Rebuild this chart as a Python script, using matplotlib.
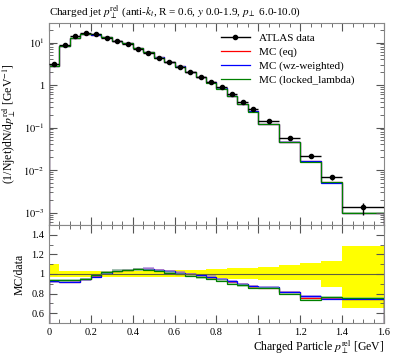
import numpy as np
import matplotlib
matplotlib.use("Agg")
from matplotlib import pyplot as plt
from matplotlib.lines import Line2D
from matplotlib.ticker import MultipleLocator, FixedLocator, NullFormatter, LogLocator, FuncFormatter

plt.rcParams["font.family"] = ["Liberation Serif", "DejaVu Serif"]
plt.rcParams["mathtext.fontset"] = "stix"

# bin edges (GeV)
edges = [0.0, 0.05, 0.1, 0.15, 0.2, 0.25, 0.3, 0.35, 0.4, 0.45, 0.5, 0.55, 0.6,
         0.65, 0.7, 0.75, 0.8, 0.85, 0.9, 0.95, 1.0, 1.1, 1.2, 1.3, 1.4, 1.6]

# ATLAS data
data = [3.05, 8.8, 13.9, 16.9, 15.8, 13.1, 10.6, 9.2, 7.1, 5.6, 4.3, 3.4, 2.71,
        2.03, 1.57, 1.20, 0.88, 0.61, 0.40, 0.275, 0.141, 0.057, 0.0213, 0.0068, 0.00133]
# relative data uncertainty (up / down)
err_up = [0.105, 0.033, 0.033, 0.033, 0.03, 0.03, 0.03, 0.03, 0.03, 0.03, 0.03, 0.03, 0.04,
          0.04, 0.04, 0.05, 0.05, 0.06, 0.06, 0.06, 0.075, 0.09, 0.115, 0.13, 0.29]
err_dn = [0.035, 0.033, 0.033, 0.033, 0.028, 0.028, 0.028, 0.028, 0.028, 0.028, 0.028, 0.028, 0.035,
          0.035, 0.035, 0.045, 0.045, 0.05, 0.05, 0.05, 0.06, 0.065, 0.065, 0.13, 0.35]

# MC / data ratios
ratio_eq = [0.928, 0.920, 0.920, 0.946, 0.975, 1.012, 1.032, 1.044, 1.048, 1.052, 1.044, 1.030, 1.012,
            0.995, 0.982, 0.962, 0.946, 0.918, 0.896, 0.872, 0.860, 0.812, 0.757, 0.750, 0.742]
ratio_wz = [0.925, 0.918, 0.918, 0.945, 0.973, 1.014, 1.034, 1.044, 1.048, 1.055, 1.044, 1.027, 1.014,
            1.0, 0.986, 0.973, 0.952, 0.925, 0.901, 0.880, 0.863, 0.815, 0.771, 0.747, 0.744]
ratio_ll = [0.938, 0.935, 0.938, 0.952, 0.990, 1.017, 1.034, 1.044, 1.046, 1.041, 1.031, 1.014, 0.997,
            0.979, 0.966, 0.949, 0.932, 0.901, 0.884, 0.856, 0.856, 0.798, 0.737, 0.768, 0.754]
mc_unc = [0.012] * 25

labels = ["MC (eq)", "MC (wz-weighted)", "MC (locked_lambda)"]
colors = ["red", "blue", "green"]
band_colors = ["#f4a0a0", "#9a70d8", "#90d090"]

edges = np.array(edges)
data = np.array(data)
centers = 0.5 * (edges[1:] + edges[:-1])
halfw = 0.5 * (edges[1:] - edges[:-1])
up = np.array(err_up)
dn = np.array(err_dn)
unc = np.array(mc_unc)

fig = plt.figure(figsize=(3.97, 3.58), dpi=100)
ax = fig.add_axes([0.1234, 0.3715, 0.8438, 0.5643])
rax = fig.add_axes([0.1234, 0.0978, 0.8438, 0.2737])

# main panel
for r, c, bc in zip([ratio_eq, ratio_wz, ratio_ll], colors, band_colors):
    mc = data * np.array(r)
    ax.stairs(mc * (1 + unc), edges, baseline=mc * (1 - unc), fill=True, color=bc, alpha=0.6, lw=0)
    ax.stairs(mc, edges, color=c, lw=0.9)
ax.errorbar(centers, data, xerr=halfw, yerr=[data * dn, data * up], fmt="o", color="black",
            ms=3.0, lw=1.0, capsize=0, zorder=5)

ax.set_yscale("log")
ax.set_xlim(0, 1.6)
ax.set_ylim(5.1e-4, 28.8)
ax.set_title(r"Charged jet $p_\perp^\mathrm{rel}$ (anti-$k_t$, R = 0.6, $y$ 0.0-1.9, $p_\perp$ 6.0-10.0)",
             loc="left", fontsize=8, pad=5)
ax.set_ylabel(r"(1/Njet)dN/d$p_\perp^\mathrm{rel}$ [GeV$^{-1}$]", fontsize=8.5)

def logfmt(v, pos):
    e = int(round(np.log10(v)))
    return "1" if e == 0 else r"$10^{%d}$" % e

ax.yaxis.set_major_locator(LogLocator(base=10, numticks=10))
ax.yaxis.set_minor_locator(LogLocator(base=10, subs=np.arange(2, 10), numticks=20))
ax.yaxis.set_major_formatter(FuncFormatter(logfmt))
ax.yaxis.set_minor_formatter(NullFormatter())
ax.xaxis.set_major_locator(MultipleLocator(0.2))
ax.xaxis.set_minor_locator(MultipleLocator(0.05))
ax.tick_params(labelbottom=False)

handles = [Line2D([], [], color="black", marker="o", ms=3.0, lw=1.0)]
handles += [Line2D([], [], color=c, lw=0.9) for c in colors]
ax.legend(handles, ["ATLAS data"] + labels, loc="upper left",
          bbox_to_anchor=(0.5, 0.97), frameon=False, fontsize=8, handlelength=2.6,
          labelspacing=0.35, borderaxespad=0)

# ratio panel
rax.stairs(1 + up, edges, baseline=1 - dn, fill=True, color="yellow", lw=0)
rax.axhline(1.0, color="#606040", lw=0.8, zorder=1.5)
for r, c, bc in zip([ratio_eq, ratio_wz, ratio_ll], colors, band_colors):
    r = np.array(r)
    rax.stairs(r + unc, edges, baseline=r - unc, fill=True, color=bc, alpha=0.6, lw=0)
    rax.stairs(r, edges, color=c, lw=0.9)
rax.set_xlim(0, 1.6)
rax.set_ylim(0.5, 1.5)
rax.set_ylabel("MC/data", fontsize=8.5)
rax.set_xlabel(r"Charged Particle $p_\perp^\mathrm{rel}$ [GeV]", fontsize=8.5, loc="right", labelpad=1)
rax.xaxis.set_major_locator(MultipleLocator(0.2))
rax.xaxis.set_minor_locator(MultipleLocator(0.05))
rax.yaxis.set_major_locator(FixedLocator([0.6, 0.8, 1.0, 1.2, 1.4]))
rax.yaxis.set_minor_locator(MultipleLocator(0.1))
rax.xaxis.set_major_formatter(FuncFormatter(lambda v, p: "%g" % round(v, 2)))
rax.yaxis.set_major_formatter(FuncFormatter(lambda v, p: "%g" % round(v, 2)))

for a in (ax, rax):
    a.tick_params(which="both", direction="in", top=True, right=True, labelsize=7.5, colors="#555555",
                  labelcolor="black")
    a.tick_params(which="major", length=6)
    a.tick_params(which="minor", length=3)
    for s in a.spines.values():
        s.set_color("#888888")

fig.savefig("out.png", dpi=100)
